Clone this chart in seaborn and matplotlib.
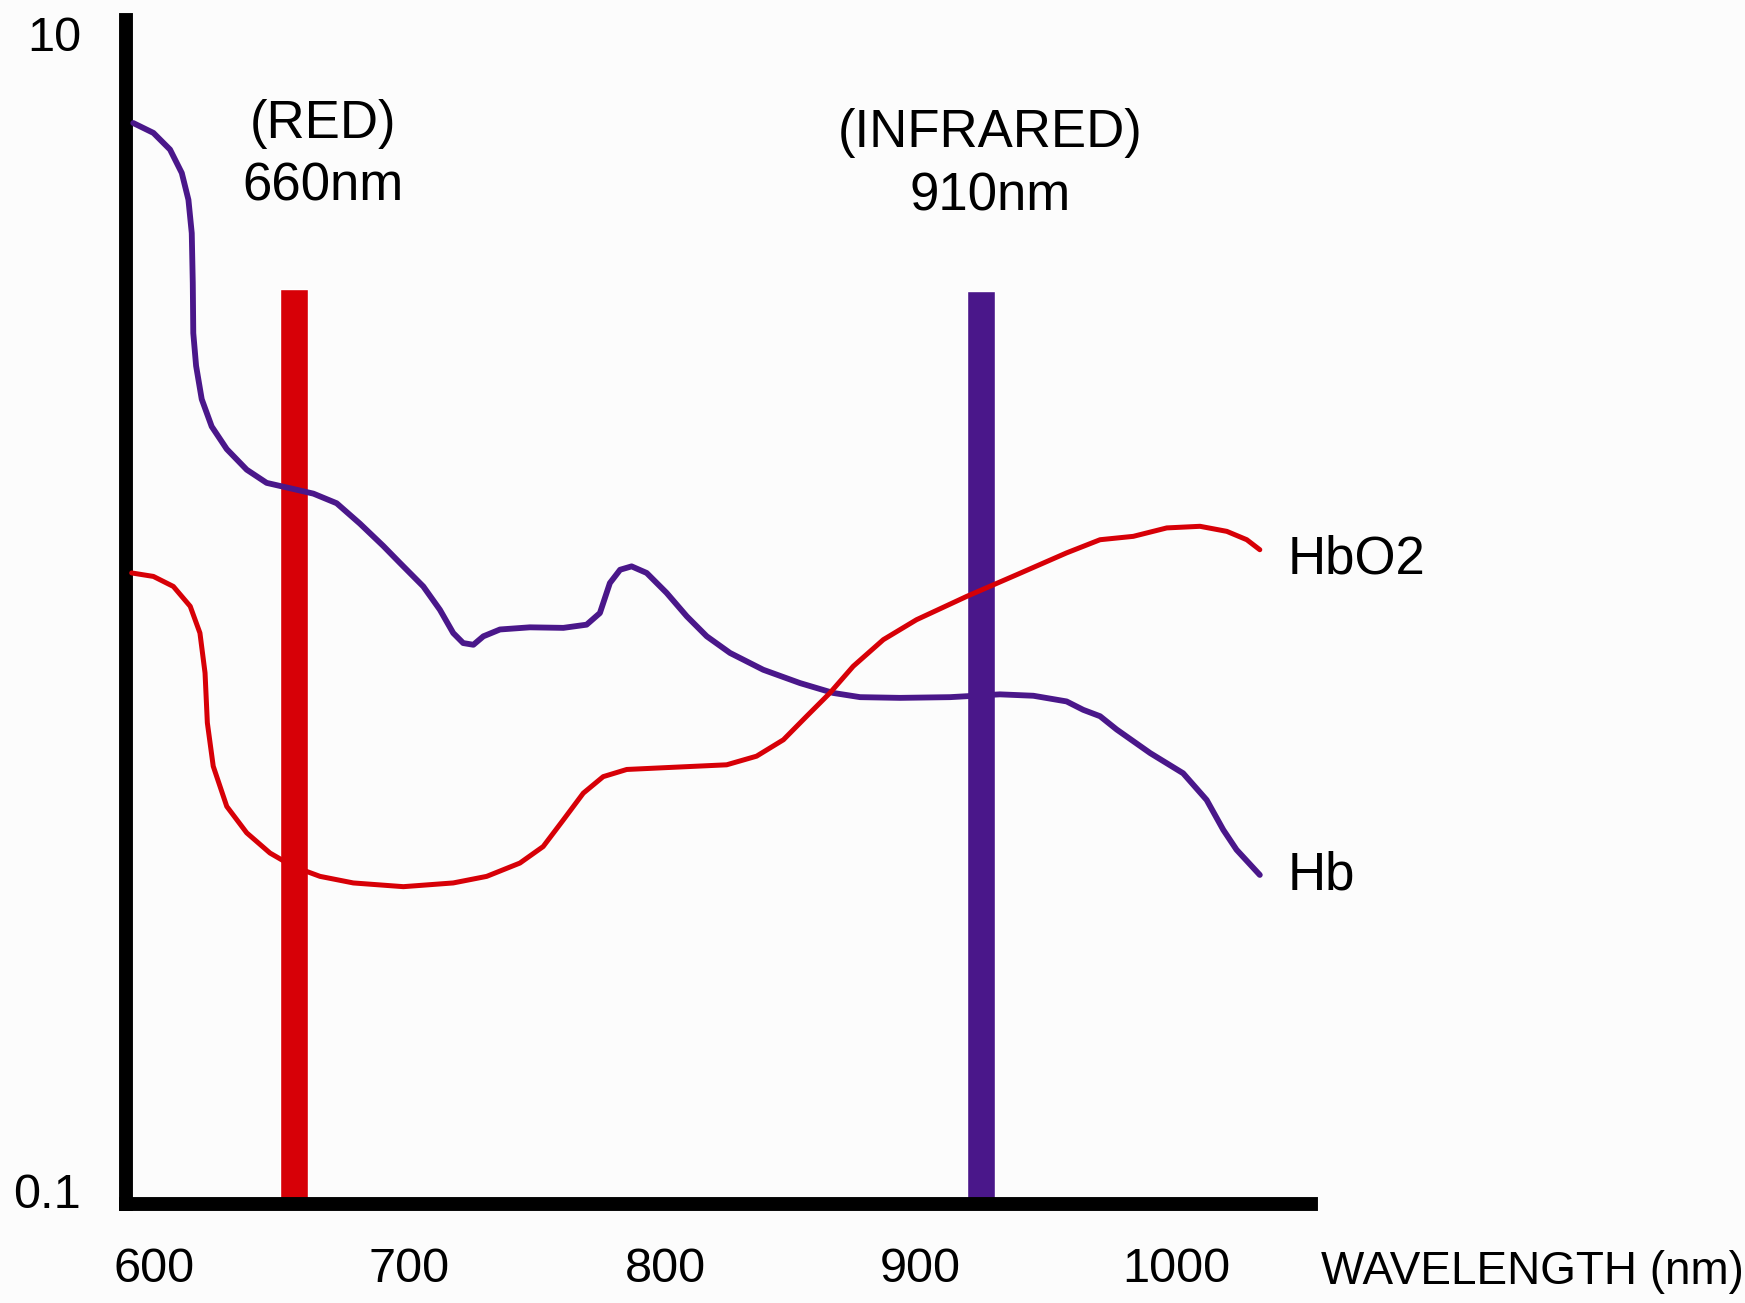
import matplotlib
matplotlib.use("Agg")
import matplotlib.pyplot as plt
import seaborn as sns
from matplotlib.ticker import NullLocator

# Absorption spectra (wavelength in nm, log absorption)
hb_wavelength = [591.9, 599.8, 606.3, 610.9, 613.5, 614.8, 615.2, 615.4, 616.5, 618.7,
                 622.6, 628.5, 636.3, 644.1, 654.5, 662.4, 671.5, 680.6, 689.7, 696.3,
                 705.4, 711.9, 717.1, 721.0, 725.0, 728.9, 735.4, 747.1, 760.2, 769.3,
                 774.5, 778.4, 782.4, 786.9, 792.8, 800.6, 808.5, 816.3, 825.4, 838.4,
                 852.8, 865.8, 876.3, 891.9, 911.5, 931.0, 944.1, 957.1, 963.6, 970.2,
                 976.7, 989.8, 1002.7, 1011.9, 1018.4, 1023.6, 1032.7]
hb_absorption = [6.99, 6.72, 6.29, 5.73, 5.15, 4.51, 3.70, 3.03, 2.66, 2.33,
                 2.09, 1.91, 1.76, 1.67, 1.63, 1.60, 1.54, 1.42, 1.30, 1.214,
                 1.106, 1.008, 0.919, 0.883, 0.877, 0.907, 0.932, 0.940, 0.938, 0.950,
                 0.995, 1.121, 1.182, 1.198, 1.167, 1.078, 0.982, 0.907, 0.849, 0.794,
                 0.753, 0.724, 0.712, 0.710, 0.712, 0.720, 0.716, 0.700, 0.677, 0.660,
                 0.626, 0.570, 0.526, 0.473, 0.420, 0.388, 0.351]

hbo2_wavelength = [591.3, 599.8, 607.6, 614.2, 618.0, 620.0, 620.9, 623.2, 628.5, 636.3,
                   645.4, 654.5, 665.0, 678.0, 697.6, 717.1, 730.2, 743.2, 752.3, 760.2,
                   768.0, 775.8, 785.0, 800.6, 824.1, 835.8, 846.3, 855.4, 864.5, 873.6,
                   885.4, 898.4, 918.0, 937.6, 957.1, 970.2, 983.2, 996.3, 1009.3, 1019.8,
                   1027.6, 1032.7]
hbo2_absorption = [1.167, 1.151, 1.106, 1.022, 0.919, 0.784, 0.643, 0.541, 0.461, 0.415,
                   0.383, 0.363, 0.349, 0.340, 0.335, 0.340, 0.349, 0.368, 0.393, 0.437,
                   0.486, 0.519, 0.534, 0.538, 0.544, 0.563, 0.601, 0.660, 0.724, 0.805,
                   0.895, 0.969, 1.063, 1.159, 1.264, 1.332, 1.350, 1.396, 1.405, 1.377,
                   1.332, 1.280]

# LED bars (position as drawn) and their tops
led_position = [654.9, 923.5]
led_top = [3.61, 3.58]
led_names = ["(RED)", "(INFRARED)"]
led_nm = ["660nm", "910nm"]

x_ticks = [600, 700, 800, 900, 1000]
x_tick_labels = ["600", "700", "800", "900", "1000"]
y_ticks = [0.1, 10]
y_tick_labels = ["0.1", "10"]

RED = "#D70007"
PURPLE = "#4A178A"
BG = "#FCFCFC"

sns.set_theme(style="white")
plt.rcParams['font.family'] = ['Liberation Sans', 'DejaVu Sans']
plt.rcParams['text.color'] = 'black'
plt.rcParams['xtick.color'] = 'black'
plt.rcParams['ytick.color'] = 'black'
plt.rcParams['lines.solid_joinstyle'] = 'round'
plt.rcParams['lines.solid_capstyle'] = 'round'

fig = plt.figure(figsize=(17.45, 13.03), dpi=100, facecolor=BG)
ax = fig.add_axes([0.0721, 0.076, 0.679, 0.909])
ax.set_facecolor(BG)

y_bottom = 0.0948
ax.set_yscale('log')
ax.set_xlim(589, 1052.6)
ax.set_ylim(y_bottom, 10.55)

ax.bar(led_position, [t - y_bottom for t in led_top], width=11, bottom=y_bottom,
       color=[RED, PURPLE], zorder=2)

sns.lineplot(x=hb_wavelength, y=hb_absorption, color=PURPLE, linewidth=4.2, ax=ax, zorder=3)
sns.lineplot(x=hbo2_wavelength, y=hbo2_absorption, color=RED, linewidth=3.6, ax=ax, zorder=4)

# LED annotations
ax.text(666.0, 6.96, led_names[0], ha="center", va="center", fontsize=38)
ax.text(666.0, 5.43, led_nm[0], ha="center", va="center", fontsize=38)
ax.text(927.3, 6.71, led_names[1], ha="center", va="center", fontsize=38)
ax.text(927.3, 5.21, led_nm[1], ha="center", va="center", fontsize=38)

# curve labels
ax.text(1043.5, 1.23, "HbO2", ha="left", va="center", fontsize=38, clip_on=False)
ax.text(1043.5, 0.35, "Hb", ha="left", va="center", fontsize=38, clip_on=False)
ax.text(1056.6, -0.0574, "WAVELENGTH (nm)", transform=ax.get_xaxis_transform(),
        ha="left", va="center", fontsize=33, clip_on=False)

for side in ["top", "right"]:
    ax.spines[side].set_visible(False)
for side in ["left", "bottom"]:
    ax.spines[side].set_linewidth(10)
    ax.spines[side].set_color("black")
    ax.spines[side].set_capstyle("projecting")

ax.set_xticks(x_ticks, x_tick_labels)
ax.set_yticks(y_ticks, y_tick_labels)
ax.yaxis.set_minor_locator(NullLocator())
ax.xaxis.set_minor_locator(NullLocator())
ax.tick_params(axis="x", direction="in", length=28, width=7, labelsize=35, pad=31)
ax.tick_params(axis="y", length=0, labelsize=35, pad=32)
ax.xaxis.get_major_ticks()[0].tick1line.set_visible(False)
ax.grid(False)

fig.savefig("out.png", dpi=100, facecolor=fig.get_facecolor())
